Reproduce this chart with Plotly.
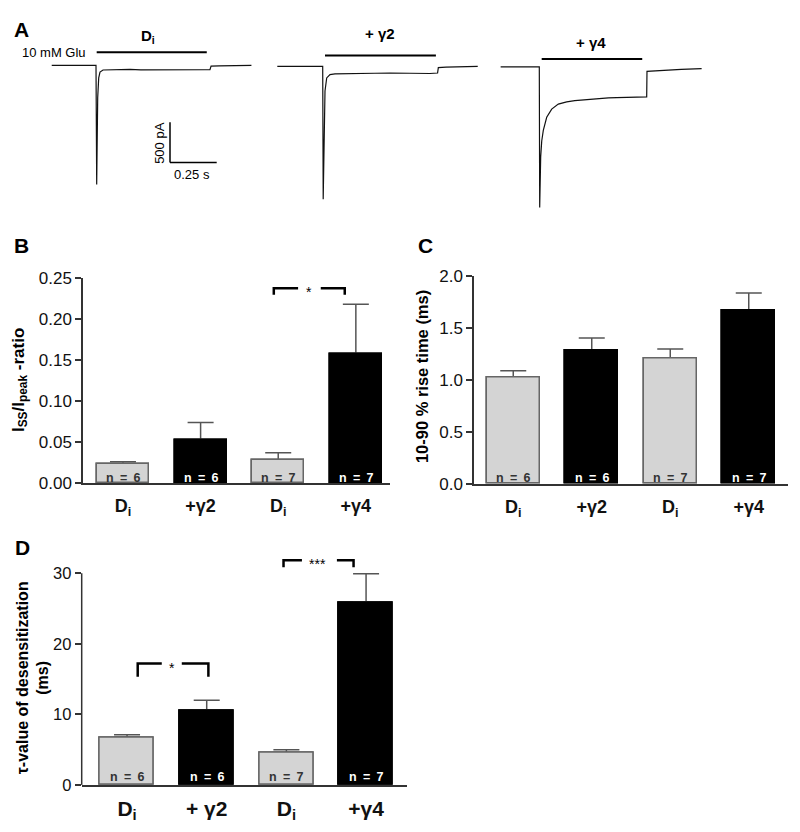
import plotly.graph_objects as go

W, H = 800, 832
H_EFF = 826   # the page screenshot comes out ~6 px taller than the figure; compensate
FONT = "Arial, Liberation Sans, sans-serif"

# ---------------- data ----------------
cat_bc = ["D<sub>i</sub>", "+γ2", "D<sub>i</sub>", "+γ4"]
cat_d = ["D<sub>i</sub>", "+ γ2", "D<sub>i</sub>", "+γ4"]
n_labels = ["n = 6", "n = 6", "n = 7", "n = 7"]

ratio_mean = [0.023, 0.052, 0.028, 0.157]
ratio_sem = [0.003, 0.022, 0.009, 0.061]
rise_mean = [1.03, 1.285, 1.21, 1.675]
rise_sem = [0.06, 0.12, 0.09, 0.165]
tau_mean = [6.75, 10.55, 4.55, 25.9]
tau_sem = [0.35, 1.45, 0.42, 4.05]

ratio_ticks = [0, 0.05, 0.10, 0.15, 0.20, 0.25]
rise_ticks = [0, 0.5, 1.0, 1.5, 2.0]
tau_ticks = [0, 10, 20, 30]

# Panel A current traces: time (ms, relative to glutamate onset), current (pA, relative to baseline)
t_di = [-237, 0, 3.7, 5.4, 9.1, 14.5, 21.4, 37.5, 60, 100, 140, 182, 240, 289, 340, 396, 450, 503, 550, 583, 610, 616, 660, 717, 780, 832]
i_di = [0, 0, -1476, -1130, -399, -155, -82, -57, -55, -58, -52, -50, -55, -56, -51, -52, -57, -57, -53, -54, -52, -9, -6, -7, -3, 0]
t_g2 = [-243, 0, 2.7, 7.0, 8.6, 12.3, 21.4, 39.1, 65.8, 120, 200, 280, 360, 420, 467, 520, 574, 615, 619, 660, 708, 770, 830]
i_g2 = [0, 0, -1646, -915, -509, -305, -143, -102, -94, -90, -88, -85, -82, -86, -82, -84, -88, -82, -15, -8, -5, -3, 0]
t_g4 = [-207, 0, 2.1, 4.8, 7.5, 13, 21.4, 39.6, 66.4, 101.7, 146.7, 190, 235.5, 280, 324.9, 370, 414.3, 460, 503.2, 540, 574.9, 576.5, 630, 682, 760, 869]
i_g4 = [0, 0, -1744, -1398, -1113, -920, -788, -626, -524, -463, -434, -420, -410, -398, -390, -386, -382, -378, -373, -375, -373, -56, -48, -40, -32, -24]
glu_on = [3.7, 12.3, 12.8]     # ms
glu_off = [593, 606, 551]      # ms
trace_names = ["D<sub>i</sub>", "+ γ2", "+ γ4"]
scale_t = 0.25   # s
scale_i = 500    # pA

# ---------------- layout helpers ----------------
def fx(px):
    return px / W

def fy(py):
    return 1 - py / H_EFF

SX = 0.25 / 46.7       # s per pixel in panel A
PA_PER_PX = 500 / 41.0  # pA per pixel in panel A
A_TOP, A_BOT = 0.0, 215.0
onset_px = [96.0, 322.7, 539.3]
base_px = [57.3, 58.3, 58.7]
glu_px = [44.0, 47.3, 50.7]

def a_y(py):
    # reference pixel row -> panel A y-axis value (pA)
    return -py * PA_PER_PX

fig = go.Figure()

# ---- panel A traces ----
for t, cur, ox, by in zip([t_di, t_g2, t_g4], [i_di, i_g2, i_g4], onset_px, base_px):
    fig.add_trace(go.Scatter(
        x=[v / 1000 + ox * SX for v in t],
        y=[c + a_y(by) for c in cur],
        mode="lines", line=dict(color="#111", width=1.2),
        xaxis="x4", yaxis="y4", showlegend=False, hoverinfo="skip"))

shapes = []
for on, off, ox, gy in zip(glu_on, glu_off, onset_px, glu_px):
    shapes.append(dict(type="line", xref="x4", yref="y4",
                       x0=on / 1000 + ox * SX, x1=off / 1000 + ox * SX,
                       y0=a_y(gy), y1=a_y(gy), line=dict(color="#000", width=2)))
# scale bar
sb_x, sb_y = 170 * SX, a_y(156)
shapes.append(dict(type="line", xref="x4", yref="y4", x0=sb_x, x1=sb_x,
                   y0=sb_y, y1=sb_y + scale_i, line=dict(color="#000", width=1.5)))
shapes.append(dict(type="line", xref="x4", yref="y4", x0=sb_x, x1=sb_x + scale_t,
                   y0=sb_y, y1=sb_y, line=dict(color="#000", width=1.5)))

fills = ["#d4d4d4", "#000000", "#d4d4d4", "#000000"]
edges = ["#666666", "#000000", "#666666", "#000000"]
ncolors = ["#333333", "#ffffff", "#333333", "#ffffff"]

panels = [
    ("x", "y", ratio_mean, ratio_sem, 0.67),
    ("x2", "y2", rise_mean, rise_sem, 0.67),
    ("x3", "y3", tau_mean, tau_sem, 0.68),
]
for xa, ya, m, s, w in panels:
    # bars with upper error bars
    fig.add_trace(go.Bar(
        x=[0, 1, 2, 3], y=m, width=w,
        marker=dict(color=fills, line=dict(color=edges, width=1.5)),
        error_y=dict(type="data", symmetric=False, array=s, arrayminus=[0] * 4,
                     color="#555", thickness=1.5, width=13),
        xaxis=xa, yaxis=ya, showlegend=False, hoverinfo="skip"))
    # same bars again on top, hiding the lower (zero-length) error caps
    fig.add_trace(go.Bar(
        x=[0, 1, 2, 3], y=m, width=w,
        marker=dict(color=fills, line=dict(color=edges, width=1.5)),
        xaxis=xa, yaxis=ya, showlegend=False, hoverinfo="skip"))

annotations = []

def ann(px, py, text, size, bold=False, color="#000", angle=0, xanchor="center", yanchor="middle"):
    annotations.append(dict(
        x=fx(px), y=fy(py), xref="paper", yref="paper", text=(f"<b>{text}</b>" if bold else text),
        showarrow=False, font=dict(family=FONT, size=size, color=color), textangle=angle,
        xanchor=xanchor, yanchor=yanchor))

# panel letters
ann(21, 21, "A", 21, True)
ann(21, 240, "B", 21, True)
ann(425, 240, "C", 21, True)
ann(22, 547, "D", 21, True)

# panel A labels
ann(88, 44, "10 mM Glu", 13, xanchor="right")
ann(148, 28, trace_names[0], 15, True)
ann(380, 25, trace_names[1], 15, True)
ann(591, 34, trace_names[2], 15, True)
ann(160, 136, "500 pA", 13, angle=-90)
ann(192, 168, "0.25 s", 13)

# axis titles
ann(20, 377, "I<sub>SS</sub>/I<sub>peak</sub> -ratio", 17, True, angle=-90)
ann(422, 374, "10-90 % rise time (ms)", 16.5, True, angle=-90)
ann(33, 680, "τ-value of desensitization<br>(ms)", 16, True, angle=-90)

# n labels inside bars
for xa, ya, ysh in [("x", "y", 5), ("x2", "y2", 5.5), ("x3", "y3", 7.5)]:
    for i in range(4):
        annotations.append(dict(
            x=i, y=0, xref=xa, yref=ya, yshift=ysh, yanchor="middle", showarrow=False,
            text=f"<b>{n_labels[i].replace(' ', chr(0x2002))}</b>",
            font=dict(family=FONT, size=12.5, color=ncolors[i])))

# significance brackets: (xaxis, yaxis, left, gap_left, gap_right, right, top, leg, label, label_x)
brackets = [
    ("x", "y", 1.943, 2.256, 2.548, 2.857, 0.2376, 0.2296, "*", 2.40),
    ("x3", "y3", 0.134, 0.436, 0.687, 1.021, 17.2, 15.35, "*", 0.562),
    ("x3", "y3", 1.964, 2.195, 2.634, 2.843, 31.86, 30.84, "***", 2.391),
]
for xa, ya, l, gl, gr, r, top, leg, lab, lx in brackets:
    shapes.append(dict(type="path", xref=xa, yref=ya,
                       path=f"M {l},{leg} L {l},{top} L {gl},{top}",
                       line=dict(color="#000", width=2.5)))
    shapes.append(dict(type="path", xref=xa, yref=ya,
                       path=f"M {gr},{top} L {r},{top} L {r},{leg}",
                       line=dict(color="#000", width=2.5)))
    annotations.append(dict(x=lx, y=top, xref=xa, yref=ya, yshift=-4, showarrow=False,
                            text=lab, font=dict(family=FONT, size=14, color="#000")))

# D y axis line (range extends above last tick for the bracket)
shapes.append(dict(type="line", xref="x3 domain", yref="y3", x0=0, x1=0, y0=0, y1=30,
                   line=dict(color="#333", width=1.5)))

def cat_axis(domain, rng, anchor, labels, size, standoff):
    return dict(domain=domain, range=rng, anchor=anchor, showline=True, linecolor="#333",
                linewidth=1.5, ticks="", tickvals=[0, 1, 2, 3],
                ticktext=[f"<b>{t}</b>" for t in labels],
                tickfont=dict(family=FONT, size=size, color="#111"),
                showgrid=False, zeroline=False, fixedrange=True, ticklabelstandoff=standoff)

def val_axis(domain, rng, anchor, tickvals, fmt, size, showline=True):
    return dict(domain=domain, range=rng, anchor=anchor, showline=showline, linecolor="#333",
                linewidth=1.5, ticks="outside", ticklen=6, tickwidth=1.5, tickcolor="#333",
                tickvals=tickvals, tickformat=fmt,
                tickfont=dict(family=FONT, size=size, color="#111"),
                showgrid=False, zeroline=False, fixedrange=True)

fig.update_layout(
    width=W, height=H, margin=dict(l=0, r=0, t=0, b=0),
    paper_bgcolor="white", plot_bgcolor="white", showlegend=False,
    barmode="overlay", bargap=0,
    xaxis=cat_axis([fx(83), fx(390)], [-0.515, 3.44], "y", cat_bc, 18, 6),
    yaxis=val_axis([fy(481.7), fy(273.3)], [0, 0.25], "x", ratio_ticks, ".2f", 17),
    xaxis2=cat_axis([fx(474), fx(788)], [-0.5, 3.5], "y2", cat_bc, 18, 6),
    yaxis2=val_axis([fy(482.3), fy(271.7)], [0, 2.0], "x2", rise_ticks, ".1f", 17),
    xaxis3=cat_axis([fx(81.7), fx(406.7)], [-0.569, 3.51], "y3", cat_d, 21, 4),
    yaxis3=val_axis([fy(788.3), fy(555.4)], [0, 32.5], "x3", tau_ticks, "d", 16.5, showline=False),
    xaxis4=dict(domain=[0, 1], range=[0, W * SX], anchor="y4", visible=False, fixedrange=True),
    yaxis4=dict(domain=[fy(A_BOT), fy(A_TOP)], range=[a_y(A_BOT), a_y(A_TOP)], anchor="x4",
                visible=False, fixedrange=True),
    shapes=shapes, annotations=annotations,
)

fix_page = (
    "var de=document.documentElement, b=document.body;"
    "[de,b].forEach(function(e){e.style.margin='0';e.style.padding='0';e.style.overflow='hidden';});"
    "var g=document.querySelector('.plotly-graph-div');"
    "if(g){g.style.overflow='hidden';}"
)
fig.write_html("out.html", config={"displayModeBar": False}, post_script=fix_page)
